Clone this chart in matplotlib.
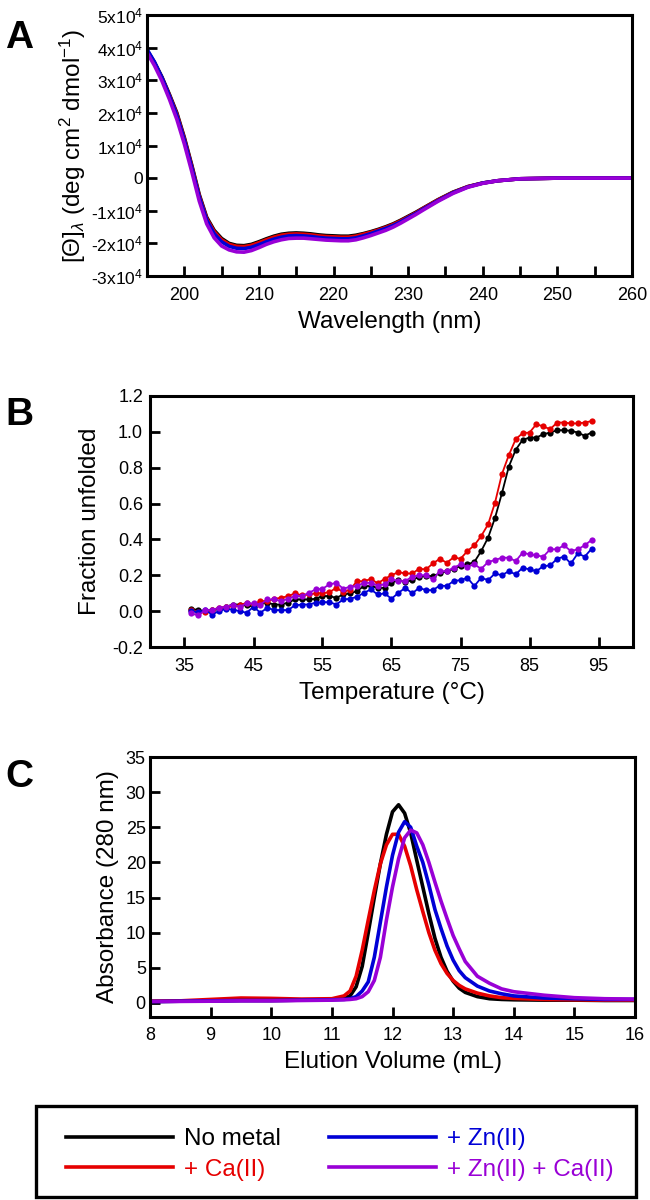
import matplotlib
matplotlib.use("Agg")
import matplotlib.pyplot as plt
from matplotlib.lines import Line2D
from matplotlib.patches import Rectangle
from matplotlib.ticker import MultipleLocator, FixedLocator, FuncFormatter

plt.rcParams['font.family'] = ['Liberation Sans', 'DejaVu Sans']
plt.rcParams['mathtext.fontset'] = 'custom'
plt.rcParams['mathtext.rm'] = 'Liberation Sans'
plt.rcParams['mathtext.it'] = 'Liberation Sans:italic'
plt.rcParams['mathtext.bf'] = 'Liberation Sans:bold'
plt.rcParams['xtick.direction'] = 'in'
plt.rcParams['ytick.direction'] = 'in'

# colours / labels shared by all panels
labels = ["No metal", "+ Ca(II)", "+ Zn(II)", "+ Zn(II) + Ca(II)"]
colors = ["#000000", "#e60000", "#0000d6", "#9900d6"]

# ---- panel A: CD spectra (mean residue ellipticity, x10^4) ----
wavelength = list(range(195, 232)) + [232, 234, 236, 238, 240, 242, 245, 250, 255, 260]
cd_none = [3.92, 3.55, 3.10, 2.57, 2.00, 1.25, 0.40, -0.50, -1.20, -1.60, -1.85, -2.00, -2.06, -2.07,
           -2.03, -1.95, -1.86, -1.78, -1.72, -1.69, -1.68, -1.69, -1.71, -1.74, -1.76, -1.77, -1.78,
           -1.78, -1.75, -1.70, -1.64, -1.57, -1.49, -1.40, -1.29, -1.17, -1.05,
           -0.92, -0.66, -0.43, -0.26, -0.15, -0.08, -0.02, 0.0, 0.0, 0.0]
cd_ca = [3.90, 3.53, 3.07, 2.54, 1.96, 1.21, 0.36, -0.54, -1.24, -1.64, -1.89, -2.03, -2.09, -2.10,
         -2.06, -1.98, -1.89, -1.81, -1.75, -1.72, -1.71, -1.72, -1.74, -1.77, -1.79, -1.80, -1.81,
         -1.81, -1.78, -1.72, -1.66, -1.59, -1.51, -1.42, -1.31, -1.19, -1.07,
         -0.93, -0.67, -0.44, -0.26, -0.15, -0.08, -0.02, 0.0, 0.0, 0.0]
cd_zn = [3.95, 3.56, 3.08, 2.52, 1.92, 1.17, 0.32, -0.58, -1.28, -1.70, -1.95, -2.09, -2.15, -2.16,
         -2.12, -2.04, -1.95, -1.87, -1.81, -1.77, -1.76, -1.77, -1.79, -1.82, -1.84, -1.85, -1.86,
         -1.86, -1.83, -1.77, -1.70, -1.62, -1.54, -1.45, -1.34, -1.21, -1.09,
         -0.95, -0.69, -0.45, -0.27, -0.15, -0.08, -0.02, 0.0, 0.0, 0.0]
cd_znca = [3.85, 3.45, 2.98, 2.42, 1.80, 1.05, 0.20, -0.70, -1.40, -1.83, -2.08, -2.20, -2.26, -2.27,
           -2.22, -2.13, -2.03, -1.95, -1.89, -1.85, -1.84, -1.84, -1.86, -1.88, -1.90, -1.91, -1.92,
           -1.92, -1.89, -1.83, -1.76, -1.68, -1.60, -1.50, -1.38, -1.25, -1.12,
           -0.98, -0.71, -0.47, -0.28, -0.16, -0.08, -0.02, 0.0, 0.0, 0.0]

# ---- panel B: thermal melts ----
temperature = list(range(36, 95))
fu_none = [0.013, 0.006, 0.0, 0.009, 0.013, 0.024, 0.037, 0.037, 0.032, 0.024, 0.047, 0.047, 0.037, 0.037, 0.047,
           0.065, 0.065, 0.065, 0.069, 0.084, 0.084, 0.074, 0.093, 0.099, 0.112, 0.14, 0.14, 0.13, 0.13,
           0.158, 0.173, 0.162, 0.173, 0.192, 0.196, 0.196, 0.21, 0.223, 0.236, 0.251, 0.261, 0.274,
           0.335, 0.41, 0.52, 0.657, 0.806, 0.90, 0.955, 0.968, 0.968, 0.987, 0.996, 1.009, 1.009,
           1.006, 0.996, 0.978, 0.996]
fu_ca = [0.006, -0.006, -0.006, 0.006, 0.019, 0.024, 0.028, 0.032, 0.047, 0.037, 0.056, 0.056, 0.069, 0.074, 0.084,
         0.099, 0.088, 0.093, 0.099, 0.10, 0.106, 0.13, 0.106, 0.12, 0.168, 0.166, 0.18, 0.155, 0.18,
         0.20, 0.218, 0.21, 0.21, 0.236, 0.233, 0.266, 0.292, 0.27, 0.30, 0.292, 0.335, 0.367,
         0.419, 0.484, 0.605, 0.764, 0.87, 0.959, 0.993, 0.996, 1.043, 1.03, 1.015, 1.052, 1.052,
         1.047, 1.047, 1.052, 1.06]
fu_zn = [0.0, -0.006, 0.006, -0.019, 0.0, 0.013, 0.009, 0.0, -0.009, 0.024, -0.009, 0.019, 0.006, 0.006, 0.006,
         0.032, 0.037, 0.037, 0.047, 0.05, 0.05, 0.037, 0.065, 0.069, 0.08, 0.102, 0.121, 0.093, 0.099,
         0.069, 0.102, 0.13, 0.099, 0.13, 0.117, 0.117, 0.143, 0.14, 0.168, 0.173, 0.186, 0.14,
         0.186, 0.173, 0.21, 0.20, 0.223, 0.205, 0.242, 0.233, 0.223, 0.251, 0.255, 0.292, 0.304,
         0.266, 0.322, 0.304, 0.348]
fu_znca = [-0.013, -0.024, 0.006, 0.006, 0.019, 0.024, 0.037, 0.024, 0.043, 0.043, 0.037, 0.065, 0.065, 0.056, 0.069,
           0.084, 0.084, 0.102, 0.121, 0.125, 0.149, 0.158, 0.125, 0.136, 0.14, 0.158, 0.158, 0.143, 0.149,
           0.177, 0.168, 0.168, 0.192, 0.20, 0.20, 0.177, 0.223, 0.223, 0.242, 0.261, 0.248, 0.261,
           0.236, 0.274, 0.285, 0.298, 0.298, 0.279, 0.326, 0.317, 0.311, 0.304, 0.345, 0.345, 0.367,
           0.335, 0.345, 0.367, 0.397]

# ---- panel C: size exclusion ----
volume = [8, 8.5, 9, 9.5, 10, 10.5, 11, 11.2, 11.3, 11.4, 11.5, 11.6, 11.7, 11.8, 11.9, 12.0, 12.1,
          12.2, 12.3, 12.4, 12.5, 12.6, 12.7, 12.8, 12.9, 13.0, 13.1, 13.2, 13.4, 13.6, 13.8, 14.0,
          14.5, 15, 15.5, 16]
abs_none = [0.2, 0.25, 0.3, 0.35, 0.35, 0.4, 0.5, 0.7, 1.0, 2.3, 5.2, 10.0, 15.0, 19.8, 24.0, 27.2, 28.2,
            27.0, 24.2, 20.3, 16.5, 12.7, 9.2, 6.5, 4.5, 3.1, 2.1, 1.5, 0.9, 0.6, 0.5, 0.45,
            0.4, 0.4, 0.35, 0.35]
abs_ca = [0.25, 0.3, 0.5, 0.7, 0.65, 0.55, 0.6, 1.0, 1.7, 3.8, 7.5, 11.8, 16.0, 19.8, 22.5, 24.0, 24.0,
          22.3, 19.5, 16.1, 13.0, 10.0, 7.5, 5.6, 4.2, 3.2, 2.5, 2.0, 1.4, 1.0, 0.75, 0.65,
          0.5, 0.45, 0.4, 0.4]
abs_zn = [0.2, 0.25, 0.3, 0.35, 0.35, 0.4, 0.45, 0.5, 0.6, 0.9, 1.7, 3.0, 6.5, 11.5, 16.5, 21.0, 24.3,
          25.8, 25.0, 22.3, 20.0, 16.8, 13.3, 10.6, 8.1, 6.1, 4.6, 3.6, 2.4, 1.7, 1.3, 1.0,
          0.7, 0.6, 0.5, 0.5]
abs_znca = [0.2, 0.22, 0.25, 0.3, 0.3, 0.35, 0.4, 0.45, 0.5, 0.6, 0.9, 1.6, 3.2, 6.5, 11.8, 16.5, 20.5,
            23.5, 24.6, 24.2, 22.5, 20.0, 17.2, 14.5, 12.0, 9.6, 7.7, 5.9, 3.8, 2.8, 2.0, 1.6,
            1.1, 0.75, 0.6, 0.55]

TICK = 13
LABEL = 17.5


def style_axes(ax):
    for s in ax.spines.values():
        s.set_linewidth(2.2)
    ax.tick_params(which='both', direction='in', length=7, width=2, labelsize=TICK,
                   top=False, right=False, color='black')
    ax.tick_params(axis='x', which='both', pad=8)
    ax.tick_params(axis='y', which='both', pad=3)


fig = plt.figure(figsize=(6.5, 12), dpi=100)

# panel A
axA = fig.add_axes([147 / 650, 1 - 276 / 1200, 485 / 650, 261 / 1200])
for y, c in zip([cd_none, cd_ca, cd_zn, cd_znca], colors):
    axA.plot(wavelength, y, color=c, lw=2.6, solid_capstyle='round', zorder=2)
axA.set_xlim(195, 260)
axA.set_ylim(-3, 5)
axA.xaxis.set_major_locator(MultipleLocator(10))
axA.xaxis.set_minor_locator(MultipleLocator(5))
axA.yaxis.set_major_locator(MultipleLocator(1))


def ellip_fmt(v, pos):
    n = int(round(v))
    if n == 0:
        return "0"
    return "%dx10$^{4}$" % n


axA.yaxis.set_major_formatter(FuncFormatter(ellip_fmt))
style_axes(axA)
axA.tick_params(axis='y', labelsize=12.5)
axA.set_xlabel("Wavelength (nm)", fontsize=LABEL, labelpad=5)
axA.set_ylabel(r"$[\Theta]_{\lambda}$ (deg cm$^{2}$ dmol$^{-1}$)", fontsize=LABEL, labelpad=2)

# panel B
axB = fig.add_axes([150 / 650, 1 - 647 / 1200, 483 / 650, 251 / 1200])
for y, c in zip([fu_none, fu_ca, fu_zn, fu_znca], colors):
    axB.plot(temperature, y, color=c, lw=1.3, marker='o', markersize=4.5, markeredgewidth=0)
axB.set_xlim(30, 100)
axB.set_ylim(-0.2, 1.2)
axB.xaxis.set_major_locator(FixedLocator([35, 45, 55, 65, 75, 85, 95]))
axB.yaxis.set_major_locator(MultipleLocator(0.2))
axB.yaxis.set_major_formatter(FuncFormatter(lambda v, p: "%.1f" % v))
style_axes(axB)
axB.tick_params(axis='y', pad=5)
axB.set_xlabel("Temperature (\u00b0C)", fontsize=LABEL, labelpad=5)
axB.set_ylabel("Fraction unfolded", fontsize=LABEL, labelpad=8)

# panel C
axC = fig.add_axes([150 / 650, 1 - 1017 / 1200, 485 / 650, 260 / 1200])
for y, c in zip([abs_none, abs_ca, abs_zn, abs_znca], colors):
    axC.plot(volume, y, color=c, lw=2.6)
axC.set_xlim(8, 16)
axC.set_ylim(-2, 35)
axC.xaxis.set_major_locator(MultipleLocator(1))
axC.yaxis.set_major_locator(MultipleLocator(5))
style_axes(axC)
axC.tick_params(axis='x', pad=7)
axC.set_xlabel("Elution Volume (mL)", fontsize=LABEL, labelpad=5)
axC.set_ylabel("Absorbance (280 nm)", fontsize=LABEL, labelpad=5)

# panel letters
for letter, yb in zip("ABC", [48, 425, 787]):
    fig.text(5 / 650, 1 - yb / 1200, letter, fontsize=28, fontweight='bold', va='baseline', ha='left')

# legend (two columns: No metal / Ca on the left, Zn / Zn+Ca on the right)
handles = [Line2D([], [], color=c, lw=2.6) for c in colors]
leg = fig.legend(handles, labels, ncol=2,
                 frameon=False, loc='upper left', bbox_to_anchor=(66 / 650, 1 - 1128 / 1200),
                 borderpad=0, borderaxespad=0, handlelength=4.4, handletextpad=0.45,
                 columnspacing=2.0, labelspacing=0.36, fontsize=LABEL)
for txt, c in zip(leg.get_texts(), colors):
    txt.set_color(c)
fig.patches.append(Rectangle((36 / 650, 1 - 1197 / 1200), 600 / 650, 91 / 1200,
                             transform=fig.transFigure, fill=False, lw=2.4, edgecolor='black'))

fig.savefig("out.png", dpi=100)
